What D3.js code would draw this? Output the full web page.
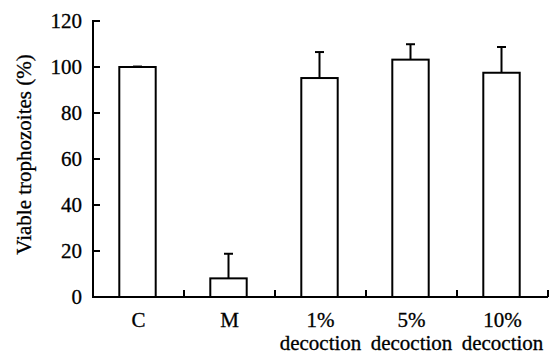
<!DOCTYPE html>
<html><head><meta charset="utf-8">
<script src="https://cdn.jsdelivr.net/npm/d3@7/dist/d3.min.js"></script>
<style>body{margin:0;background:#fff}svg{display:block}</style>
</head><body><svg id="c" width="553" height="354"></svg>
<script>
const categories = [["C"], ["M"], ["1%", "decoction"], ["5%", "decoction"], ["10%", "decoction"]];
const values = [100, 8.1, 95.2, 103.2, 97.5];
const errors = [0.2, 10.7, 11.3, 6.7, 11.2];
const yTicks = [0, 20, 40, 60, 80, 100, 120];
const yLabel = "Viable trophozoites (%)";

const FONT = "'Liberation Serif', 'DejaVu Serif', 'Times New Roman', Times, serif";
const svg = d3.select("#c").style("font-family", FONT);
const m = {l: 93, r: 5, t: 21, b: 57};
const W = 553, H = 354;
const x = d3.scaleBand().domain(d3.range(categories.length)).range([m.l, W - m.r]).paddingInner(0).paddingOuter(0);
const y = d3.scaleLinear().domain([0, 120]).range([H - m.b, m.t]);
const fs = 21;

function txt(sel) {
  return sel.append("text").attr("font-family", FONT).attr("font-size", fs)
    .attr("fill", "#000").attr("stroke", "#000").attr("stroke-width", 0.3);
}

// bars
const bw = x.bandwidth() * 0.4;
const g = svg.append("g");
values.forEach((v, i) => {
  const cx = x(i) + x.bandwidth() / 2 - 1;
  g.append("rect").attr("x", cx - bw / 2).attr("y", y(v)).attr("width", bw).attr("height", y(0) - y(v))
    .attr("fill", "#fff").attr("stroke", "#000").attr("stroke-width", 2);
  g.append("line").attr("x1", cx).attr("x2", cx).attr("y1", y(v)).attr("y2", y(v + errors[i])).attr("stroke", "#000").attr("stroke-width", 2);
  g.append("line").attr("x1", cx - 4.5).attr("x2", cx + 4.5).attr("y1", y(v + errors[i])).attr("y2", y(v + errors[i])).attr("stroke", "#000").attr("stroke-width", 2);
});

// y axis
const ya = svg.append("g");
ya.append("line").attr("x1", m.l).attr("x2", m.l).attr("y1", y(120)).attr("y2", y(0)).attr("stroke", "#000").attr("stroke-width", 2);
yTicks.forEach(t => {
  ya.append("line").attr("x1", m.l - 1).attr("x2", m.l + 7).attr("y1", y(t)).attr("y2", y(t)).attr("stroke", "#000").attr("stroke-width", 2);
  txt(ya).attr("x", m.l - 11).attr("y", y(t)).attr("dy", "0.35em").attr("text-anchor", "end").text(t);
});

// x axis
const xa = svg.append("g");
xa.append("line").attr("x1", m.l - 1).attr("x2", W - m.r).attr("y1", y(0)).attr("y2", y(0)).attr("stroke", "#000").attr("stroke-width", 2);
d3.range(1, categories.length + 1).forEach(i => {
  const xx = i < categories.length ? x(i) : x(i - 1) + x.bandwidth();
  xa.append("line").attr("x1", xx).attr("x2", xx).attr("y1", y(0)).attr("y2", y(0) - 7).attr("stroke", "#000").attr("stroke-width", 2);
});
categories.forEach((lines, i) => {
  const cx = x(i) + x.bandwidth() / 2;
  const t = txt(xa).attr("text-anchor", "middle");
  lines.forEach((s, j) => t.append("tspan").attr("x", cx).attr("y", 327 + j * 23).text(s));
});

txt(svg).attr("transform", `translate(31,${(52 + 257) / 2}) rotate(-90)`).attr("text-anchor", "middle").text(yLabel);
</script></body></html>
